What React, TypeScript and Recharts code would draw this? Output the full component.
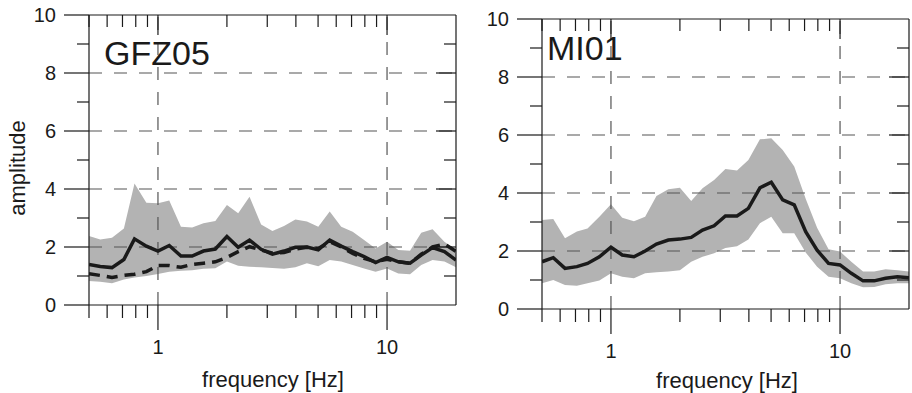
import React from "react";
import { Area, ComposedChart, Line, ReferenceLine, XAxis, YAxis } from "recharts";

// frequencies [Hz], ~20 per decade
const freqs = [
  0.5, 0.56, 0.63, 0.71, 0.79, 0.89, 1.0, 1.12, 1.26, 1.41, 1.58, 1.78, 2.0, 2.24, 2.51, 2.82, 3.16,
  3.55, 3.98, 4.47, 5.01, 5.62, 6.31, 7.08, 7.94, 8.91, 10.0, 11.2, 12.6, 14.1, 15.8, 17.8, 20.0,
];

// GFZ05
const gfzMean = [
  1.4, 1.33, 1.29, 1.57, 2.28, 2.03, 1.86, 2.05, 1.69, 1.69, 1.86, 1.93, 2.36, 1.99, 2.24, 1.92, 1.75,
  1.86, 1.99, 2.0, 1.9, 2.24, 2.03, 1.84, 1.67, 1.46, 1.64, 1.49, 1.44, 1.72, 1.98, 1.84, 1.55,
];
const gfzRef = [
  1.08, 1.02, 0.95, 1.02, 1.06, 1.15, 1.36, 1.36, 1.3, 1.4, 1.44, 1.49, 1.64, 1.84, 2.01, 1.9, 1.79,
  1.81, 1.93, 1.99, 1.95, 2.18, 2.0, 1.78, 1.61, 1.49, 1.58, 1.49, 1.44, 1.75, 2.0, 2.1, 1.85,
];
const gfzHigh = [
  2.38, 2.26, 2.32, 2.64, 4.19, 3.53, 3.51, 3.6, 2.7, 2.67, 2.82, 2.9, 3.45, 3.16, 3.73, 2.78, 2.55,
  2.72, 2.95, 2.88, 2.7, 3.22, 2.7, 2.53, 2.24, 1.95, 2.18, 1.9, 1.87, 2.49, 2.61, 2.18, 1.9,
];
const gfzLow = [
  0.83, 0.8, 0.75, 0.88, 0.95, 1.0, 1.07, 1.15, 1.18, 1.2, 1.25, 1.27, 1.5, 1.35, 1.32, 1.3, 1.28,
  1.25, 1.3, 1.44, 1.34, 1.55, 1.5, 1.38, 1.26, 1.15, 1.26, 1.09, 1.06, 1.38, 1.55, 1.5, 1.3,
];

// MI01
const miMean = [
  1.63, 1.77, 1.4, 1.46, 1.57, 1.8, 2.13, 1.86, 1.8, 2.0, 2.24, 2.38, 2.41, 2.47, 2.72, 2.87, 3.21,
  3.21, 3.47, 4.18, 4.37, 3.76, 3.59, 2.67, 2.03, 1.57, 1.52, 1.23, 0.97, 0.97, 1.06, 1.11, 1.08,
];
const miHigh = [
  3.07, 3.1, 2.44, 2.67, 2.78, 3.18, 3.61, 3.15, 3.03, 3.18, 3.9, 4.13, 4.18, 3.72, 4.16, 4.45, 4.83,
  4.78, 5.14, 5.85, 5.89, 5.48, 4.91, 3.8, 2.8, 2.06, 1.98, 1.63, 1.29, 1.29, 1.37, 1.34, 1.29,
];
const miLow = [
  0.89, 1.0, 0.83, 0.8, 0.89, 0.98, 1.23, 1.11, 1.06, 1.23, 1.27, 1.29, 1.34, 1.63, 1.8, 1.92, 2.1,
  2.16, 2.4, 2.96, 3.18, 2.61, 2.61, 1.95, 1.46, 1.11, 1.06, 0.89, 0.75, 0.76, 0.85, 0.89, 0.89,
];

const xTicks = [0.5, 0.6, 0.7, 0.8, 0.9, 1, 2, 3, 4, 5, 6, 7, 8, 9, 10];
const yTicks = [0, 1, 2, 3, 4, 5, 6, 7, 8, 9, 10];
const gridY = [2, 4, 6, 8];
const gridX = [1, 10];

const FONT = "'Liberation Sans', Arial, Helvetica, sans-serif";
const INK = "#1a1a1a";
const BAND = "#b3b3b3";
const CHART_W = 459;
const CHART_H = 393;
const PLOT_W = 367;
const PLOT_H = 290;

const XTick = (props: any) => {
  const { x, y, payload } = props;
  const v = payload.value;
  const major = v === 1 || v === 10;
  const top = y - PLOT_H;
  return (
    <g>
      <line x1={x} x2={x} y1={y} y2={y + (major ? 25 : 13)} stroke={INK} strokeWidth={1.2} />
      <line x1={x} x2={x} y1={top} y2={top + (major ? 20 : 12)} stroke={INK} strokeWidth={1.2} />
      {major && (
        <text x={x} y={y + 42} textAnchor="middle" dominantBaseline="central" fontSize={20} fontFamily={FONT} fill={INK}>
          {v}
        </text>
      )}
    </g>
  );
};

const YTick = (props: any) => {
  const { x, y, payload } = props;
  const v = payload.value;
  const major = v % 2 === 0;
  const right = x + PLOT_W;
  return (
    <g>
      <line x1={x - (major ? 25 : 12)} x2={x} y1={y} y2={y} stroke={INK} strokeWidth={1.2} />
      {v > 0 && v < 10 && (
        <line x1={right - (major ? 20 : 12)} x2={right} y1={y} y2={y} stroke={INK} strokeWidth={1.2} />
      )}
      {major && (
        <text x={x - 33} y={y} textAnchor="end" dominantBaseline="central" fontSize={20} fontFamily={FONT} fill={INK}>
          {v}
        </text>
      )}
    </g>
  );
};

const Panel = ({ data, dashed }: { data: any[]; dashed: boolean }) => (
  <ComposedChart width={CHART_W} height={CHART_H} data={data} margin={{ top: 15, right: 3, bottom: 0, left: 29 }}>
    <XAxis
      dataKey="f"
      type="number"
      scale="log"
      domain={[0.5, 20]}
      allowDataOverflow
      ticks={xTicks}
      interval={0}
      tickSize={0}
      tickMargin={0}
      tickLine={false}
      axisLine={{ stroke: INK, strokeWidth: 1.2 }}
      tick={<XTick />}
      height={88}
    />
    <YAxis
      type="number"
      domain={[0, 10]}
      ticks={yTicks}
      interval={0}
      tickSize={0}
      tickMargin={0}
      tickLine={false}
      axisLine={{ stroke: INK, strokeWidth: 1.2 }}
      tick={<YTick />}
      width={60}
    />
    <Area
      type="linear"
      dataKey="band"
      fill={BAND}
      fillOpacity={1}
      stroke="none"
      isAnimationActive={false}
    />
    {gridY.map((g) => (
      <ReferenceLine key={"y" + g} y={g} stroke="#555" strokeWidth={1.2} strokeDasharray="13 12" />
    ))}
    {gridX.map((g) => (
      <ReferenceLine key={"x" + g} x={g} stroke="#555" strokeWidth={1.2} strokeDasharray="13 12" />
    ))}
    {dashed && (
      <Line
        type="linear"
        dataKey="ref"
        stroke={INK}
        strokeWidth={3.5}
        strokeDasharray="11 7"
        dot={false}
        isAnimationActive={false}
      />
    )}
    <Line type="linear" dataKey="mean" stroke={INK} strokeWidth={3.5} dot={false} isAnimationActive={false} />
    <ReferenceLine y={10} stroke={INK} strokeWidth={1.2} />
    <ReferenceLine x={20} stroke={INK} strokeWidth={1.2} />
  </ComposedChart>
);

const gfzData = freqs.map((f, i) => ({
  f,
  band: [gfzLow[i], gfzHigh[i]],
  mean: gfzMean[i],
  ref: gfzRef[i],
}));
const miData = freqs.map((f, i) => ({
  f,
  band: [miLow[i], miHigh[i]],
  mean: miMean[i],
}));

export default function App() {
  return (
    <div
      style={{
        position: "absolute",
        left: 0,
        top: 0,
        width: 912,
        height: 393,
        overflow: "hidden",
        background: "#fff",
        fontFamily: FONT,
      }}
    >
      <div style={{ position: "absolute", left: 0, top: 0 }}>
        <Panel data={gfzData} dashed />
      </div>
      <div style={{ position: "absolute", left: 453, top: 4 }}>
        <Panel data={miData} dashed={false} />
      </div>
      <svg width={912} height={393} style={{ position: "absolute", left: 0, top: 0, pointerEvents: "none" }}>
        <text x={104} y={65} fontSize={34} fontFamily={FONT} fill={INK}>
          GFZ05
        </text>
        <text x={547} y={60} fontSize={34} fontFamily={FONT} fill={INK}>
          MI01
        </text>
        <text
          x={17}
          y={168}
          transform="rotate(-90 17 168)"
          textAnchor="middle"
          dominantBaseline="central"
          fontSize={22}
          fontFamily={FONT}
          fill={INK}
        >
          amplitude
        </text>
        <text x={273} y={387} textAnchor="middle" fontSize={22} fontFamily={FONT} fill={INK}>
          frequency [Hz]
        </text>
        <text x={727} y={388} textAnchor="middle" fontSize={22} fontFamily={FONT} fill={INK}>
          frequency [Hz]
        </text>
      </svg>
    </div>
  );
}
